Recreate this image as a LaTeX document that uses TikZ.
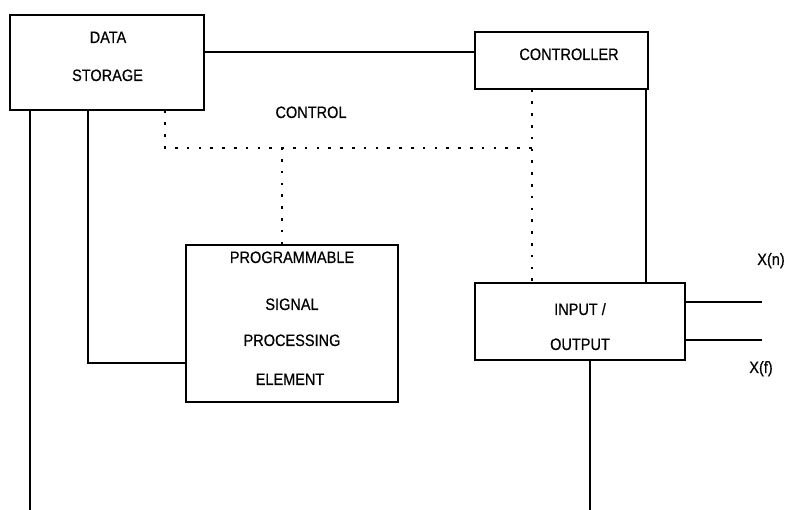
\documentclass[tikz,border=0pt]{standalone}
\usepackage{fontspec}
\setmainfont{Liberation Sans}[FakeStretch=0.88,FakeBold=0.5]
\begin{document}
\begin{tikzpicture}[x=1pt,y=-1pt,
  box/.style={draw,line width=1.4pt,minimum width=#1,inner sep=0pt},
  lbl/.style={anchor=base,inner sep=0pt,font=\fontsize{16.5}{19}\selectfont},
  wire/.style={line width=1.4pt},
  ctl/.style={line width=2.6pt,dash pattern=on 2.6pt off 9.2pt}]
\useasboundingbox (0,0) rectangle (785,510);
% boxes
\node[box=194pt,minimum height=95pt] (ds) at (107,62.5) {};
\node[box=173pt,minimum height=57pt] (ctrl) at (561.5,60.5) {};
\node[box=212pt,minimum height=157pt] (pspe) at (292,323.5) {};
\node[box=210pt,minimum height=77pt] (io) at (580,321.5) {};
% texts
\node[lbl] (t1) at (108,43) {DATA};
\node[lbl] (t2) at (107.5,81) {STORAGE};
\node[lbl] (t3) at (569,60) {CONTROLLER};
\node[lbl] (t4) at (311,118) {CONTROL};
\node[lbl] (t5) at (292,263) {PROGRAMMABLE};
\node[lbl] (t6) at (292,310) {SIGNAL};
\node[lbl] (t7) at (292,346) {PROCESSING};
\node[lbl] (t8) at (290,385) {ELEMENT};
\node[lbl] (t9) at (580,315) {INPUT /};
\node[lbl] (t10) at (580,350) {OUTPUT};
\node[lbl] (xn) at (771,265) {X(n)};
\node[lbl] (xf) at (761,373) {X(f)};
% coordinates
\coordinate (xnend) at (762,302);
\coordinate (xfend) at (762,340);
\coordinate (bl) at (30,510);
\coordinate (br) at (590,510);
\coordinate (cj) at (165,148);
% solid connectors
\draw[wire] (ds.east |- 0,52) -- (ctrl.west |- 0,52);
\draw[wire] (ds.south -| bl) -- (bl);
\draw[wire] (ds.south -| 88,0) |- (pspe.west |- 0,363);
\draw[wire] (ctrl.south -| 646,0) -- (io.north -| 646,0);
\draw[wire] (io.east |- xnend) -- (xnend);
\draw[wire] (io.east |- xfend) -- (xfend);
\draw[wire] (io.south -| br) -- (br);
% dotted control lines
\draw[ctl] (ds.south -| cj) -- (cj) -- (cj -| 532,0);
\draw[ctl] (pspe.north -| 282,0) -- (cj -| 282,0);
\draw[ctl] (ctrl.south -| 532,0) -- (io.north -| 532,0);
\end{tikzpicture}
\end{document}
